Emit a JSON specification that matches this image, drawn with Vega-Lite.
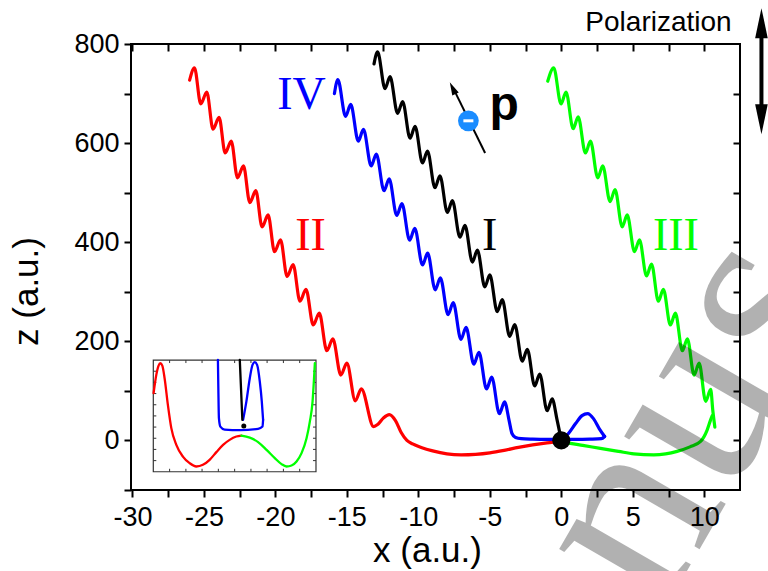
{
"$schema": "https://vega.github.io/schema/vega-lite/v6.json",
"width": 609, "height": 446,
"autosize": {"type": "none"},
"padding": {"left": 131, "top": 44, "right": 28, "bottom": 81},
"background": "white",
"config": {"view": {"stroke": "black", "strokeWidth": 2}, "font": "Liberation Sans"},
"datasets": {
"traj": [
{"s":"I","g":"I","x":0,"z":0},{"s":"I","g":"I","x":-0.3,"z":42},{"s":"I","g":"I","x":-0.64,"z":84},{"s":"I","g":"I","x":-0.99,"z":60},{"s":"I","g":"I","x":-1.51,"z":134},{"s":"I","g":"I","x":-1.86,"z":110},{"s":"I","g":"I","x":-2.38,"z":184},{"s":"I","g":"I","x":-2.73,"z":160},{"s":"I","g":"I","x":-3.26,"z":234},{"s":"I","g":"I","x":-3.61,"z":210},{"s":"I","g":"I","x":-4.13,"z":284},{"s":"I","g":"I","x":-4.48,"z":260},{"s":"I","g":"I","x":-5.0,"z":334},{"s":"I","g":"I","x":-5.35,"z":310},{"s":"I","g":"I","x":-5.87,"z":384},{"s":"I","g":"I","x":-6.22,"z":360},{"s":"I","g":"I","x":-6.74,"z":434},{"s":"I","g":"I","x":-7.09,"z":410},{"s":"I","g":"I","x":-7.62,"z":484},{"s":"I","g":"I","x":-7.97,"z":460},{"s":"I","g":"I","x":-8.49,"z":534},{"s":"I","g":"I","x":-8.84,"z":510},{"s":"I","g":"I","x":-9.36,"z":584},{"s":"I","g":"I","x":-9.71,"z":560},{"s":"I","g":"I","x":-10.23,"z":634},{"s":"I","g":"I","x":-10.58,"z":610},{"s":"I","g":"I","x":-11.1,"z":684},{"s":"I","g":"I","x":-11.45,"z":660},{"s":"I","g":"I","x":-11.98,"z":734},{"s":"I","g":"I","x":-12.33,"z":710},{"s":"I","g":"I","x":-12.85,"z":784},{"s":"I","g":"I","x":-13.1,"z":760},
{"s":"II","g":"II","x":0,"z":-2},{"s":"II","g":"II","x":-1,"z":-5},{"s":"II","g":"II","x":-2,"z":-9},{"s":"II","g":"II","x":-3,"z":-14},{"s":"II","g":"II","x":-4,"z":-20},{"s":"II","g":"II","x":-5,"z":-25},{"s":"II","g":"II","x":-6,"z":-28},{"s":"II","g":"II","x":-7,"z":-29},{"s":"II","g":"II","x":-8,"z":-27},{"s":"II","g":"II","x":-9,"z":-21},{"s":"II","g":"II","x":-9.8,"z":-14},{"s":"II","g":"II","x":-10.4,"z":-7},{"s":"II","g":"II","x":-10.8,"z":0},{"s":"II","g":"II","x":-11.2,"z":16},{"s":"II","g":"II","x":-11.6,"z":40},{"s":"II","g":"II","x":-12.03,"z":52},{"s":"II","g":"II","x":-12.45,"z":45},{"s":"II","g":"II","x":-12.85,"z":32},{"s":"II","g":"II","x":-13.13,"z":28},
{"s":"II","g":"II","x":-13.99,"z":104},{"s":"II","g":"II","x":-14.41,"z":80},{"s":"II","g":"II","x":-15.0,"z":156},{"s":"II","g":"II","x":-15.42,"z":132},{"s":"II","g":"II","x":-15.98,"z":205},{"s":"II","g":"II","x":-16.4,"z":181},{"s":"II","g":"II","x":-16.93,"z":257},{"s":"II","g":"II","x":-17.35,"z":233},{"s":"II","g":"II","x":-17.86,"z":305},{"s":"II","g":"II","x":-18.28,"z":281},{"s":"II","g":"II","x":-18.76,"z":355},{"s":"II","g":"II","x":-19.18,"z":331},{"s":"II","g":"II","x":-19.64,"z":405},{"s":"II","g":"II","x":-20.06,"z":381},{"s":"II","g":"II","x":-20.51,"z":455},{"s":"II","g":"II","x":-20.93,"z":431},{"s":"II","g":"II","x":-21.37,"z":504},{"s":"II","g":"II","x":-21.79,"z":480},{"s":"II","g":"II","x":-22.23,"z":554},{"s":"II","g":"II","x":-22.65,"z":530},{"s":"II","g":"II","x":-23.09,"z":604},{"s":"II","g":"II","x":-23.51,"z":580},{"s":"II","g":"II","x":-23.94,"z":652},{"s":"II","g":"II","x":-24.36,"z":628},{"s":"II","g":"II","x":-24.8,"z":703},{"s":"II","g":"II","x":-25.22,"z":679},{"s":"II","g":"II","x":-25.66,"z":752},{"s":"II","g":"II","x":-26.0,"z":727},
{"s":"IV","g":"IVa","x":0,"z":0},{"s":"IV","g":"IVa","x":0.5,"z":14},{"s":"IV","g":"IVa","x":1.0,"z":34},{"s":"IV","g":"IVa","x":1.45,"z":50},{"s":"IV","g":"IVa","x":1.84,"z":54},{"s":"IV","g":"IVa","x":2.25,"z":44},{"s":"IV","g":"IVa","x":2.65,"z":24},{"s":"IV","g":"IVa","x":3.03,"z":8},
{"s":"IV","g":"IVb","x":3.03,"z":8},{"s":"IV","g":"IVb","x":2.8,"z":3.5},{"s":"IV","g":"IVb","x":2.0,"z":2.5},{"s":"IV","g":"IVb","x":1.0,"z":2},{"s":"IV","g":"IVb","x":0,"z":2},{"s":"IV","g":"IVb","x":-1,"z":2},{"s":"IV","g":"IVb","x":-2,"z":2.5},{"s":"IV","g":"IVb","x":-2.8,"z":3.5},{"s":"IV","g":"IVb","x":-3.2,"z":6},{"s":"IV","g":"IVb","x":-3.45,"z":14},{"s":"IV","g":"IVb","x":-3.65,"z":40},{"s":"IV","g":"IVb","x":-3.97,"z":78},{"s":"IV","g":"IVb","x":-4.33,"z":54},{"s":"IV","g":"IVb","x":-4.87,"z":128},{"s":"IV","g":"IVb","x":-5.23,"z":104},{"s":"IV","g":"IVb","x":-5.76,"z":178},{"s":"IV","g":"IVb","x":-6.12,"z":154},{"s":"IV","g":"IVb","x":-6.66,"z":228},{"s":"IV","g":"IVb","x":-7.02,"z":204},{"s":"IV","g":"IVb","x":-7.56,"z":278},{"s":"IV","g":"IVb","x":-7.92,"z":254},{"s":"IV","g":"IVb","x":-8.46,"z":328},{"s":"IV","g":"IVb","x":-8.82,"z":304},{"s":"IV","g":"IVb","x":-9.35,"z":378},{"s":"IV","g":"IVb","x":-9.71,"z":354},{"s":"IV","g":"IVb","x":-10.25,"z":428},{"s":"IV","g":"IVb","x":-10.61,"z":404},{"s":"IV","g":"IVb","x":-11.15,"z":478},{"s":"IV","g":"IVb","x":-11.51,"z":454},{"s":"IV","g":"IVb","x":-12.04,"z":528},{"s":"IV","g":"IVb","x":-12.4,"z":504},{"s":"IV","g":"IVb","x":-12.94,"z":578},{"s":"IV","g":"IVb","x":-13.3,"z":554},{"s":"IV","g":"IVb","x":-13.84,"z":628},{"s":"IV","g":"IVb","x":-14.2,"z":604},{"s":"IV","g":"IVb","x":-14.73,"z":678},{"s":"IV","g":"IVb","x":-15.09,"z":654},{"s":"IV","g":"IVb","x":-15.63,"z":728},{"s":"IV","g":"IVb","x":-15.87,"z":700},
{"s":"III","g":"IIIa","x":0,"z":-2},{"s":"III","g":"IIIa","x":0.63,"z":-6},{"s":"III","g":"IIIa","x":1.5,"z":-10},{"s":"III","g":"IIIa","x":2.73,"z":-16},{"s":"III","g":"IIIa","x":4,"z":-22},{"s":"III","g":"IIIa","x":5.07,"z":-27},{"s":"III","g":"IIIa","x":6.47,"z":-29},{"s":"III","g":"IIIa","x":7.3,"z":-27},{"s":"III","g":"IIIa","x":8.1,"z":-22},{"s":"III","g":"IIIa","x":9.0,"z":-13},{"s":"III","g":"IIIa","x":9.74,"z":-2},{"s":"III","g":"IIIa","x":10.2,"z":21},{"s":"III","g":"IIIa","x":10.45,"z":42},{"s":"III","g":"IIIa","x":10.56,"z":50},
{"s":"III","g":"IIIb","x":-0.95,"z":725},{"s":"III","g":"IIIb","x":-0.53,"z":752},{"s":"III","g":"IIIb","x":-0.02,"z":679},{"s":"III","g":"IIIb","x":0.33,"z":703},{"s":"III","g":"IIIb","x":0.83,"z":629},{"s":"III","g":"IIIb","x":1.18,"z":653},{"s":"III","g":"IIIb","x":1.69,"z":580},{"s":"III","g":"IIIb","x":2.04,"z":604},{"s":"III","g":"IIIb","x":2.55,"z":530},{"s":"III","g":"IIIb","x":2.9,"z":554},{"s":"III","g":"IIIb","x":3.41,"z":482},{"s":"III","g":"IIIb","x":3.76,"z":506},{"s":"III","g":"IIIb","x":4.26,"z":431},{"s":"III","g":"IIIb","x":4.61,"z":455},{"s":"III","g":"IIIb","x":5.12,"z":381},{"s":"III","g":"IIIb","x":5.47,"z":405},{"s":"III","g":"IIIb","x":5.96,"z":332},{"s":"III","g":"IIIb","x":6.31,"z":356},{"s":"III","g":"IIIb","x":6.79,"z":281},{"s":"III","g":"IIIb","x":7.14,"z":305},{"s":"III","g":"IIIb","x":7.63,"z":233},{"s":"III","g":"IIIb","x":7.98,"z":257},{"s":"III","g":"IIIb","x":8.47,"z":181},{"s":"III","g":"IIIb","x":8.82,"z":205},{"s":"III","g":"IIIb","x":9.29,"z":132},{"s":"III","g":"IIIb","x":9.64,"z":156},{"s":"III","g":"IIIb","x":10.1,"z":79},{"s":"III","g":"IIIb","x":10.45,"z":103},{"s":"III","g":"IIIb","x":10.6,"z":60},{"s":"III","g":"IIIb","x":10.74,"z":27}
],
"inset": [
{"s":"II","g":"iII","x":-28.52,"z":95.4},{"s":"II","g":"iII","x":-28.33,"z":132.3},{"s":"II","g":"iII","x":-28.17,"z":151},{"s":"II","g":"iII","x":-28.05,"z":155.8},{"s":"II","g":"iII","x":-27.91,"z":151},{"s":"II","g":"iII","x":-27.75,"z":125.6},{"s":"II","g":"iII","x":-27.52,"z":71.8},{"s":"II","g":"iII","x":-27.28,"z":24.8},{"s":"II","g":"iII","x":-26.93,"z":-8.9},{"s":"II","g":"iII","x":-26.47,"z":-32.5},{"s":"II","g":"iII","x":-26.0,"z":-45.8},{"s":"II","g":"iII","x":-25.53,"z":-52.6},{"s":"II","g":"iII","x":-25.07,"z":-49.2},{"s":"II","g":"iII","x":-24.6,"z":-39.1},{"s":"II","g":"iII","x":-24.13,"z":-23.6},{"s":"II","g":"iII","x":-23.66,"z":-8.9},{"s":"II","g":"iII","x":-23.2,"z":1.2},{"s":"II","g":"iII","x":-22.73,"z":7.9},{"s":"II","g":"iII","x":-22.38,"z":9.9},
{"s":"III","g":"iIII","x":-22.38,"z":9.9},{"s":"III","g":"iIII","x":-21.79,"z":5.8},{"s":"III","g":"iIII","x":-21.21,"z":-3.4},{"s":"III","g":"iIII","x":-20.62,"z":-19},{"s":"III","g":"iIII","x":-20.04,"z":-35.7},{"s":"III","g":"iIII","x":-19.57,"z":-47.8},{"s":"III","g":"iIII","x":-19.22,"z":-52.6},{"s":"III","g":"iIII","x":-18.87,"z":-50.6},{"s":"III","g":"iIII","x":-18.52,"z":-42.5},{"s":"III","g":"iIII","x":-18.17,"z":-25.6},{"s":"III","g":"iIII","x":-17.82,"z":4.6},{"s":"III","g":"iIII","x":-17.59,"z":38.1},{"s":"III","g":"iIII","x":-17.4,"z":78.4},{"s":"III","g":"iIII","x":-17.31,"z":118.8},{"s":"III","g":"iIII","x":-17.24,"z":155.8},
{"s":"IV","g":"iIVa","x":-22.26,"z":41.5},{"s":"IV","g":"iIVa","x":-22.03,"z":78.4},{"s":"IV","g":"iIVa","x":-21.79,"z":125.6},{"s":"IV","g":"iIVa","x":-21.6,"z":152.4},{"s":"IV","g":"iIVa","x":-21.44,"z":157.9},{"s":"IV","g":"iIVa","x":-21.28,"z":152.4},{"s":"IV","g":"iIVa","x":-21.09,"z":118.8},{"s":"IV","g":"iIVa","x":-20.95,"z":78.4},{"s":"IV","g":"iIVa","x":-20.86,"z":41.5},
{"s":"IV","g":"iIVb","x":-20.86,"z":41.5},{"s":"IV","g":"iIVb","x":-20.9,"z":28},{"s":"IV","g":"iIVb","x":-21.21,"z":23.4},{"s":"IV","g":"iIVb","x":-22.49,"z":20.8},{"s":"IV","g":"iIVb","x":-23.55,"z":22},{"s":"IV","g":"iIVb","x":-23.85,"z":28},{"s":"IV","g":"iIVb","x":-23.95,"z":45},{"s":"IV","g":"iIVb","x":-23.99,"z":105.4},{"s":"IV","g":"iIVb","x":-24.02,"z":162.5},
{"s":"I","g":"iI","x":-22.49,"z":162.5},{"s":"I","g":"iI","x":-22.31,"z":41.5}
],
"insetframe": [{"x":-28.54,"x2":-17.16,"z":-63.2,"z2":162.2}],
"insetticks": [
{"x":-27.4,"x2":-27.4,"z":-63.2,"z2":-57.2},{"x":-26.26,"x2":-26.26,"z":-63.2,"z2":-57.2},{"x":-25.13,"x2":-25.13,"z":-63.2,"z2":-57.2},{"x":-23.99,"x2":-23.99,"z":-63.2,"z2":-57.2},{"x":-22.85,"x2":-22.85,"z":-63.2,"z2":-57.2},{"x":-21.71,"x2":-21.71,"z":-63.2,"z2":-57.2},{"x":-20.58,"x2":-20.58,"z":-63.2,"z2":-57.2},{"x":-19.44,"x2":-19.44,"z":-63.2,"z2":-57.2},{"x":-18.3,"x2":-18.3,"z":-63.2,"z2":-57.2},
{"x":-27.4,"x2":-27.4,"z":162.2,"z2":156.2},{"x":-26.26,"x2":-26.26,"z":162.2,"z2":156.2},{"x":-25.13,"x2":-25.13,"z":162.2,"z2":156.2},{"x":-23.99,"x2":-23.99,"z":162.2,"z2":156.2},{"x":-22.85,"x2":-22.85,"z":162.2,"z2":156.2},{"x":-21.71,"x2":-21.71,"z":162.2,"z2":156.2},{"x":-20.58,"x2":-20.58,"z":162.2,"z2":156.2},{"x":-19.44,"x2":-19.44,"z":162.2,"z2":156.2},{"x":-18.3,"x2":-18.3,"z":162.2,"z2":156.2},
{"x":-28.54,"x2":-28.33,"z":139.7,"z2":139.7},{"x":-28.54,"x2":-28.33,"z":117.1,"z2":117.1},{"x":-28.54,"x2":-28.33,"z":94.6,"z2":94.6},{"x":-28.54,"x2":-28.33,"z":72.0,"z2":72.0},{"x":-28.54,"x2":-28.33,"z":49.5,"z2":49.5},{"x":-28.54,"x2":-28.33,"z":27.0,"z2":27.0},{"x":-28.54,"x2":-28.33,"z":4.4,"z2":4.4},{"x":-28.54,"x2":-28.33,"z":-18.1,"z2":-18.1},{"x":-28.54,"x2":-28.33,"z":-40.7,"z2":-40.7},
{"x":-17.16,"x2":-17.37,"z":139.7,"z2":139.7},{"x":-17.16,"x2":-17.37,"z":117.1,"z2":117.1},{"x":-17.16,"x2":-17.37,"z":94.6,"z2":94.6},{"x":-17.16,"x2":-17.37,"z":72.0,"z2":72.0},{"x":-17.16,"x2":-17.37,"z":49.5,"z2":49.5},{"x":-17.16,"x2":-17.37,"z":27.0,"z2":27.0},{"x":-17.16,"x2":-17.37,"z":4.4,"z2":4.4},{"x":-17.16,"x2":-17.37,"z":-18.1,"z2":-18.1},{"x":-17.16,"x2":-17.37,"z":-40.7,"z2":-40.7}
],
"labels": [
{"t":"IV","s":"IV","x":-18.17,"z":668},{"t":"II","s":"II","x":-17.54,"z":385},{"t":"I","s":"I","x":-5.01,"z":385},{"t":"III","s":"III","x":8.02,"z":385}
]
},
"encoding": {
"x": {"field": "x", "type": "quantitative", "scale": {"domain": [-30.1, 12.5], "nice": false, "zero": false}, "axis": null},
"y": {"field": "z", "type": "quantitative", "scale": {"domain": [-100, 800], "nice": false, "zero": false}, "axis": null}
},
"layer": [
{
"data": {"name": "traj"},
"mark": {"type": "line", "interpolate": "monotone", "strokeWidth": 3.2, "strokeCap": "round", "strokeJoin": "round"},
"encoding": {
"x": {"field": "x", "type": "quantitative", "scale": {"domain": [-30.1, 12.5], "nice": false, "zero": false},
"axis": {"orient": "bottom", "values": [-30,-27.5,-25,-22.5,-20,-17.5,-15,-12.5,-10,-7.5,-5,-2.5,0,2.5,5,7.5,10], "labelExpr": "datum.value % 5 === 0 ? '' + datum.value : ''", "title": "x (a.u.)", "titleFont": "Liberation Sans", "titleFontSize": 35, "titleFontWeight": "normal", "titleColor": "black", "titleX": 296, "titleY": 71, "titleBaseline": "alphabetic", "titleAlign": "center", "domain": false, "grid": false, "tickSize": 7, "tickWidth": 2, "tickColor": "black", "labelFont": "Liberation Sans", "labelFontSize": 27, "labelColor": "black", "labelPadding": 7, "labelFlush": false, "labelOverlap": false, "labelBound": false}},
"y": {"field": "z", "type": "quantitative", "scale": {"domain": [-100, 800], "nice": false, "zero": false},
"axis": {"orient": "left", "values": [-100,0,100,200,300,400,500,600,700,800], "labelExpr": "datum.value % 200 === 0 && datum.value >= 0 ? '' + datum.value : ''", "title": "z (a.u.)", "titleFont": "Liberation Sans", "titleFontSize": 35, "titleFontWeight": "normal", "titleColor": "black", "titleAngle": 270, "titleX": -94, "titleY": 247, "titleBaseline": "alphabetic", "titleAlign": "center", "domain": false, "grid": false, "tickSize": 7, "tickWidth": 2, "tickColor": "black", "labelFont": "Liberation Sans", "labelFontSize": 27, "labelColor": "black", "labelPadding": 5, "labelFlush": false, "labelOverlap": false, "labelBound": false}},
"color": {"field": "s", "type": "nominal", "scale": {"domain": ["I","II","III","IV"], "range": ["#000000","#ff0000","#00ff00","#0000ff"]}, "legend": null},
"detail": {"field": "g"}
}
},
{
"data": {"name": "traj"},
"mark": {"type": "point", "opacity": 0},
"encoding": {
"x": {"field": "x", "type": "quantitative", "scale": {"domain": [-30.1, 12.5], "nice": false, "zero": false},
"axis": {"orient": "top", "values": [-30,-27.5,-25,-22.5,-20,-17.5,-15,-12.5,-10,-7.5,-5,-2.5,0,2.5,5,7.5,10], "labels": false, "title": null, "domain": false, "grid": false, "tickSize": -7, "tickWidth": 2, "tickColor": "black"}},
"y": {"field": "z", "type": "quantitative", "scale": {"domain": [-100, 800], "nice": false, "zero": false},
"axis": {"orient": "right", "values": [0,100,200,300,400,500,600,700], "labels": false, "title": null, "domain": false, "grid": false, "tickSize": -7, "tickWidth": 2, "tickColor": "black"}}
}
},
{
"data": {"name": "insetframe"},
"mark": {"type": "rect", "fillOpacity": 0, "stroke": "#333333", "strokeWidth": 1.2},
"encoding": {"x2": {"field": "x2"}, "y2": {"field": "z2"}}
},
{
"data": {"name": "insetticks"},
"mark": {"type": "rule", "color": "#333333", "strokeWidth": 1},
"encoding": {"x2": {"field": "x2"}, "y2": {"field": "z2"}}
},
{
"data": {"name": "inset"},
"mark": {"type": "line", "interpolate": "monotone", "strokeWidth": 2.3, "strokeCap": "round"},
"encoding": {
"color": {"field": "s", "type": "nominal", "scale": {"domain": ["I","II","III","IV"], "range": ["#000000","#ff0000","#00ff00","#0000ff"]}, "legend": null},
"detail": {"field": "g"}
}
},
{
"data": {"values": [{"x": -22.21, "z": 29}]},
"mark": {"type": "point", "filled": true, "color": "black", "opacity": 1, "size": 25}
},
{
"data": {"values": [{"x": -5.33, "z": 580}, {"x": -7.58, "z": 712}]},
"mark": {"type": "line", "color": "black", "strokeWidth": 2}
},
{
"data": {"values": [{"x": -7.6, "z": 711}]},
"mark": {"type": "point", "filled": true, "color": "black", "opacity": 1, "shape": "M0,-1L0.55,1L-0.55,1Z", "size": 170, "angle": -26}
},
{
"data": {"values": [{"x": -6.5, "z": 645}]},
"mark": {"type": "point", "filled": true, "color": "#1a8cff", "opacity": 1, "size": 430}
},
{
"data": {"values": [{"x": -6.5, "z": 645}]},
"mark": {"type": "point", "filled": true, "color": "white", "opacity": 1, "shape": "M-1,-0.3L1,-0.3L1,0.3L-1,0.3Z", "size": 100}
},
{
"data": {"values": [{"x": 0, "z": 0}]},
"mark": {"type": "point", "filled": true, "color": "black", "opacity": 1, "size": 330}
},
{
"data": {"name": "labels"},
"mark": {"type": "text", "font": "Liberation Serif", "fontSize": 46, "align": "center", "baseline": "alphabetic"},
"encoding": {
"text": {"field": "t"},
"color": {"field": "s", "type": "nominal", "scale": {"domain": ["I","II","III","IV"], "range": ["#000000","#ff0000","#00ff00","#0000ff"]}, "legend": null}
}
},
{
"data": {"values": [{"t": "p", "x": -3.99, "z": 646}]},
"mark": {"type": "text", "font": "Liberation Sans", "fontWeight": "bold", "fontSize": 48, "align": "center", "baseline": "alphabetic", "color": "black"},
"encoding": {"text": {"field": "t"}}
},
{
"data": {"values": [{"t": "Polarization", "x": 6.8, "z": 826}]},
"mark": {"type": "text", "font": "Liberation Sans", "fontSize": 28, "align": "center", "baseline": "alphabetic", "color": "black"},
"encoding": {"text": {"field": "t"}}
},
{
"data": {"values": [{"x": 14.0, "z": 828, "z2": 667}]},
"mark": {"type": "rule", "color": "black", "strokeWidth": 4},
"encoding": {"y2": {"field": "z2"}}
},
{
"data": {"values": [{"x": 14.0, "z": 842}]},
"mark": {"type": "point", "filled": true, "color": "black", "opacity": 1, "shape": "M0,-1L0.42,1L-0.42,1Z", "size": 900}
},
{
"data": {"values": [{"x": 14.0, "z": 648}]},
"mark": {"type": "point", "filled": true, "color": "black", "opacity": 1, "shape": "M0,1L0.42,-1L-0.42,-1Z", "size": 900}
},
{
"data": {"values": [{"t": "nus", "x": 8.6, "z": 50}]},
"mark": {"type": "text", "font": "Liberation Serif", "fontSize": 265, "align": "center", "baseline": "middle", "angle": -60, "color": "black", "opacity": 0.3},
"encoding": {"text": {"field": "t"}}
}
],
"resolve": {"axis": {"x": "independent", "y": "independent"}}
}
